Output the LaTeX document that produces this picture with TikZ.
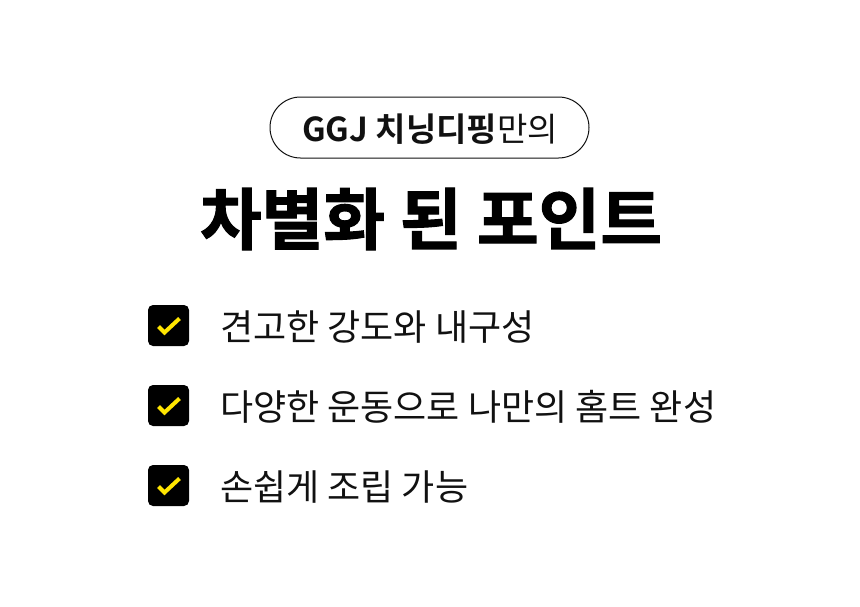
\documentclass[tikz,border=0pt]{standalone}
\usepackage{fontspec}
\newfontfamily\kr[BoldFont=* Bold]{Noto Sans CJK KR}
\newfontfamily\krh[BoldFont=* Bold,BoldFeatures={FakeBold=1.6}]{Noto Sans CJK KR}
\definecolor{chk}{HTML}{FFE500}
\definecolor{ink}{HTML}{111111}
\begin{document}
\begin{tikzpicture}[x=1pt,y=-1pt,
  pill/.style={draw=ink,line width=1pt,rounded corners=30.5pt,minimum width=319pt,minimum height=61pt,inner sep=0pt},
  cbox/.style={fill=black,rounded corners=5pt,minimum width=41pt,minimum height=41pt,inner sep=0pt},
  item/.style={anchor=west,inner sep=0pt,font=\kr\fontsize{36}{40}\selectfont,text=ink},
  tick/.style={draw=chk,line width=4pt,line cap=butt,line join=miter}]
\useasboundingbox[fill=white] (0,0) rectangle (860,606);
\node[pill] (p) at (429.5,127.5) {};
\node[inner sep=0pt,text=ink] (pt) at (430,129) {\kr\fontsize{33}{36}\selectfont\bfseries GGJ 치닝디핑\mdseries 만의};
\node[inner sep=0pt,text=black] (title) at (431,219) {\krh\bfseries\fontsize{67}{70}\selectfont 차별화 된 포인트};
\foreach \i/\y/\t in {1/325.5/견고한 강도와 내구성,2/405.5/다양한 운동으로 나만의 홈트 완성,3/485.5/손쉽게 조립 가능}{
  \node[cbox] (b\i) at (168.5,\y) {};
  \draw[tick] ([shift={(-10,1)}]b\i.center) -- ([shift={(-4,7)}]b\i.center) -- ([shift={(11,-7)}]b\i.center);
  \node[item] (t\i) at (220,\y+1.5) {\t};
}
\end{tikzpicture}
\end{document}
